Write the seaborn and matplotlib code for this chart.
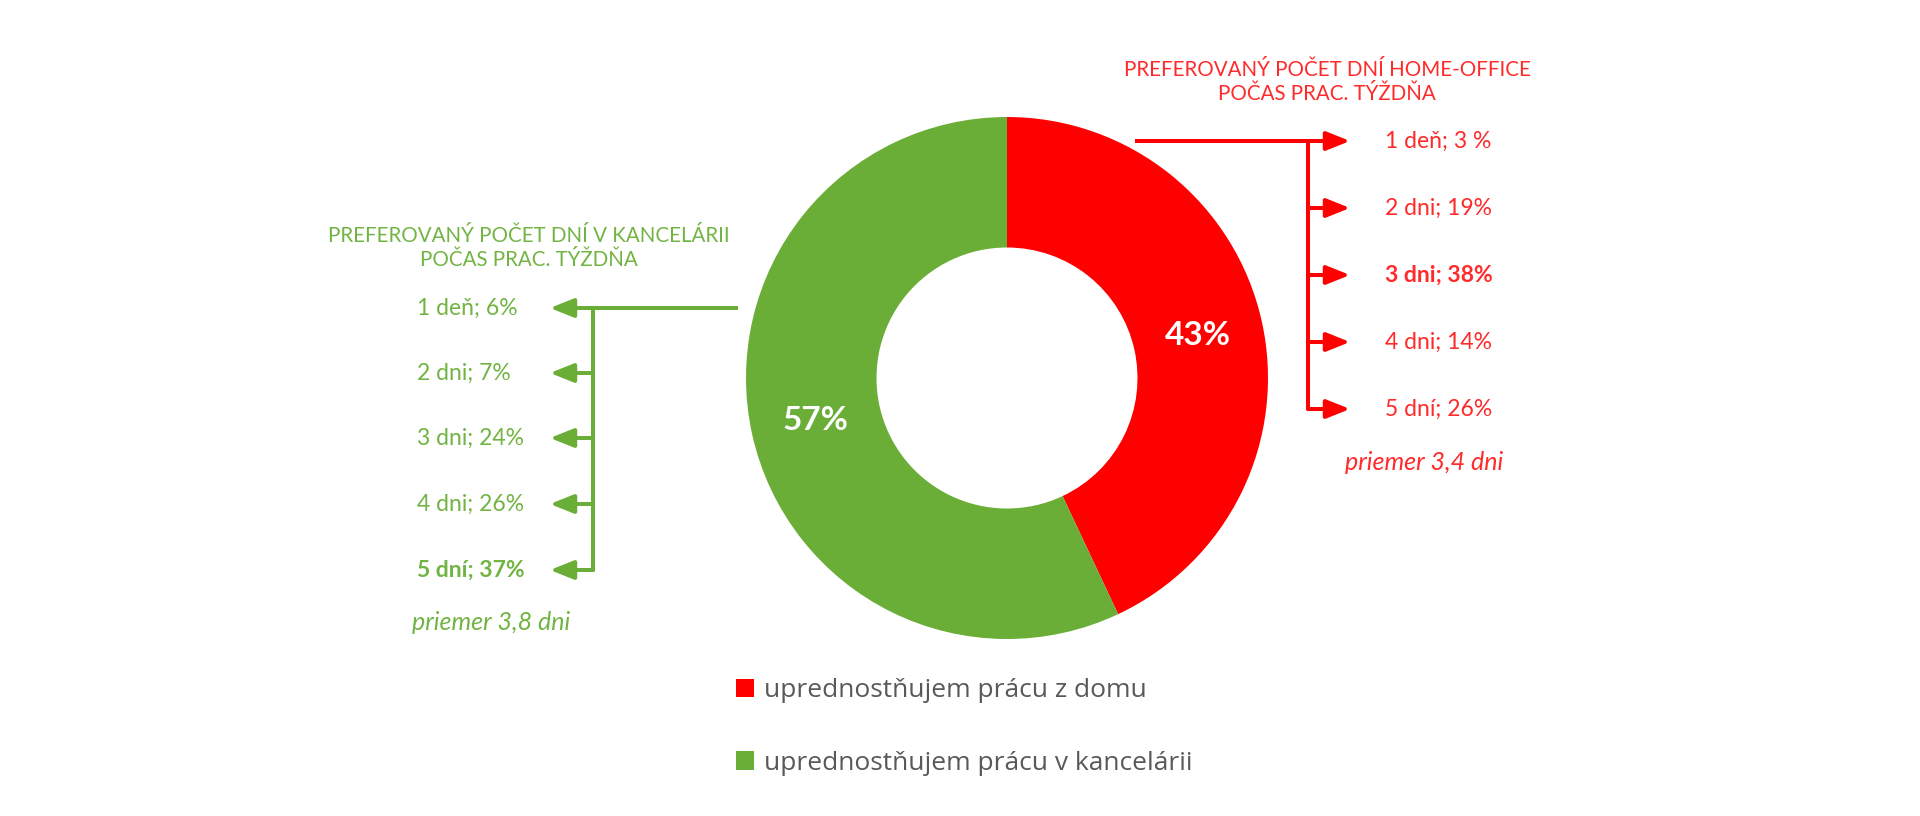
import matplotlib
matplotlib.use("Agg")
import matplotlib.pyplot as plt
import seaborn as sns

# ------------------------------------------------------------
# data
# ------------------------------------------------------------
share_labels = ["uprednostňujem prácu z domu", "uprednostňujem prácu v kancelárii"]
share_values = [43, 57]

home_title = "PREFEROVANÝ POČET DNÍ HOME-OFFICE\nPOČAS PRAC. TÝŽDŇA"
home_labels = ["1 deň; 3 %", "2 dni; 19%", "3 dni; 38%", "4 dni; 14%", "5 dní; 26%"]
home_values = [3, 19, 38, 14, 26]
home_mean = "priemer 3,4 dni"

office_title = "PREFEROVANÝ POČET DNÍ V KANCELÁRII\nPOČAS PRAC. TÝŽDŇA"
office_labels = ["1 deň; 6%", "2 dni; 7%", "3 dni; 24%", "4 dni; 26%", "5 dní; 37%"]
office_values = [6, 7, 24, 26, 37]
office_mean = "priemer 3,8 dni"

RED = "#FF0000"
GREEN = "#6AAE38"
RED_TXT = "#FF2A2A"
GREEN_TXT = "#72B443"
GREY = "#595959"

sns.set_theme(style="white")
plt.rcParams["font.family"] = ["Lato", "DejaVu Sans"]

W, H = 1920, 816
fig = plt.figure(figsize=(W / 100, H / 100), dpi=100)
ax = fig.add_axes([0, 0, 1, 1])


def Y(y):
    # pixel row (from top) -> data y
    return H - y


# ------------------------------------------------------------
# donut
# ------------------------------------------------------------
cx, cy, r = 1007, 378, 261
wedges, _, autotexts = ax.pie(
    share_values,
    colors=[RED, GREEN],
    startangle=90,
    counterclock=False,
    center=(cx, Y(cy)),
    radius=r,
    autopct=lambda p: f"{p:.0f}%",
    pctdistance=0.75,
    wedgeprops=dict(width=r * 0.5, linewidth=0),
    textprops=dict(color="white", fontsize=24, fontweight="bold"),
    frame=True,
)


def arrow(x0, x1, y, color):
    ax.annotate("", xy=(x1, Y(y)), xytext=(x0, Y(y)),
                arrowprops=dict(arrowstyle="-|>,head_length=0.95,head_width=0.38",
                                color=color, lw=2.9, mutation_scale=15,
                                shrinkA=0, shrinkB=0))


# ------------------------------------------------------------
# right side: home office
# ------------------------------------------------------------
right_rows = [141, 208, 275, 342, 409]
vx = 1308
ax.plot([1135, vx], [Y(right_rows[0])] * 2, color=RED, lw=2.9, solid_capstyle="butt")
ax.plot([vx, vx], [Y(right_rows[0]), Y(right_rows[-1])], color=RED, lw=2.9)
best = home_values.index(max(home_values))
for i, (lab, yy) in enumerate(zip(home_labels, right_rows)):
    arrow(vx, 1350, yy, RED)
    ax.text(1385, Y(yy), lab, color=RED_TXT, fontsize=16.5, va="center", ha="left",
            fontweight="bold" if i == best else "normal")
ax.text(1327, Y(82), home_title, color=RED_TXT, fontsize=14.8, ha="center",
        va="center", linespacing=1.2)
ax.text(1503, Y(462), home_mean, color=RED_TXT, fontsize=18, style="italic",
        ha="right", va="center")

# ------------------------------------------------------------
# left side: office
# ------------------------------------------------------------
left_rows = [308, 373, 438, 504, 570]
vx = 593
ax.plot([738, vx], [Y(left_rows[0])] * 2, color=GREEN, lw=2.9, solid_capstyle="butt")
ax.plot([vx, vx], [Y(left_rows[0]), Y(left_rows[-1])], color=GREEN, lw=2.9)
best = office_values.index(max(office_values))
for i, (lab, yy) in enumerate(zip(office_labels, left_rows)):
    arrow(vx, 550, yy, GREEN)
    ax.text(417, Y(yy), lab, color=GREEN_TXT, fontsize=16.5, va="center", ha="left",
            fontweight="bold" if i == best else "normal")
ax.text(529, Y(248), office_title, color=GREEN_TXT, fontsize=14.8, ha="center",
        va="center", linespacing=1.2)
ax.text(412, Y(622), office_mean, color=GREEN_TXT, fontsize=18, style="italic",
        ha="left", va="center")

# ------------------------------------------------------------
# legend
# ------------------------------------------------------------
leg = ax.legend(wedges, share_labels, loc="center left",
                bbox_to_anchor=(736, Y(727)), bbox_transform=ax.transData,
                frameon=False, handlelength=0.7, handleheight=0.7,
                handletextpad=0.35, labelspacing=1.8, borderpad=0, borderaxespad=0,
                prop=dict(family=["Open Sans", "DejaVu Sans"], size=19))
for t in leg.get_texts():
    t.set_color(GREY)

ax.set_xlim(0, W)
ax.set_ylim(0, H)
ax.set_aspect("equal")
ax.axis("off")

fig.savefig("out.png", dpi=100, facecolor="white")
